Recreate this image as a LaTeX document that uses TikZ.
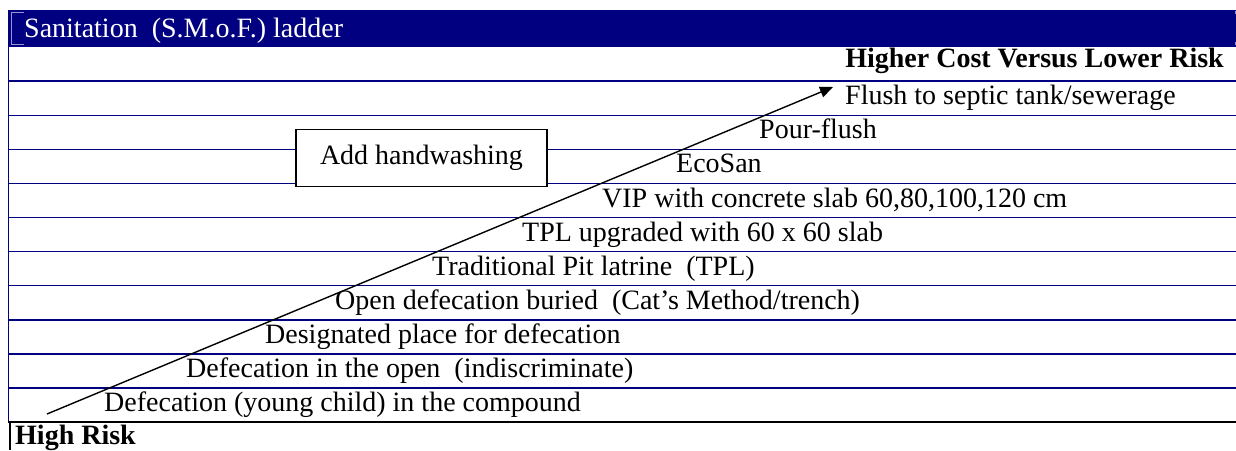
\documentclass[tikz,border=0pt]{standalone}
\usepackage{fontspec}
\setmainfont{Liberation Serif}
\usetikzlibrary{arrows.meta}
\definecolor{navyrule}{RGB}{0,0,128}
\definecolor{cellmark}{RGB}{150,150,205}
\begin{document}
\begin{tikzpicture}[x=1pt,y=-1pt,
  rowline/.style={navyrule, line width=1.4pt},
  baseline rule/.style={black, line width=1.8pt},
  celltext/.style={anchor=base west, inner sep=0pt, font=\fontsize{28}{32}\selectfont},
  boldtext/.style={celltext, font=\fontsize{28}{32}\selectfont\bfseries},
  headtext/.style={celltext, text=white},
  notebox/.style={draw=black, line width=1.2pt, fill=white, inner sep=0pt,
    minimum width=251pt, minimum height=57pt, font=\fontsize{28}{32}\selectfont},
  ladderarrow/.style={black, line width=1.4pt, -{Triangle[length=13pt,width=11pt]}},
  markline/.style={cellmark, line width=0.9pt}]
\useasboundingbox (0,0) rectangle (1236,450);

% title band
\fill[navyrule] (8,10) rectangle (1236,47);
\draw[markline] (24,12.5) -- (11,12.5) -- (11,44.5) -- (24,44.5);
\draw[markline] (1235.2,11) -- (1235.2,14);
\draw[markline] (1235.2,42) -- (1235.2,45);
\node[headtext] (title) at (24,37.7) {Sanitation\ \ (S.M.o.F.) ladder};

% table rules
\draw[rowline] (8.7,47) -- (8.7,422);
\foreach \k in {1,...,10}
  \draw[rowline] (8,{47+34.1*\k}) -- (1236,{47+34.1*\k});
\draw[baseline rule] (8,422.1) -- (1236,422.1);
\draw[black, line width=1.6pt] (10,422.1) -- (10,450);

% side note
\node[notebox] (wash) at (421.5,158) {Add handwashing};

% ladder steps
\node[boldtext, anchor=base east] (cost) at (1224,67.5) {Higher Cost Versus Lower Risk};
\node[celltext] (flush)  at (845,104.7) {Flush to septic tank/sewerage};
\node[celltext] (pour)   at (759,138.8) {Pour-flush};
\node[celltext] (ecosan) at (676,172.9) {EcoSan};
\node[celltext] (vip)    at (602,207.0) {VIP with concrete slab 60,80,100,120 cm};
\node[celltext] (tplup)  at (522,241.1) {TPL upgraded with 60 x 60 slab};
\node[celltext] (tpl)    at (432,275.2) {Traditional Pit latrine\ \ (TPL)};
\node[celltext] (cat)    at (335,309.3) {Open defecation buried\ \ (Cat’s Method/trench)};
\node[celltext] (place)  at (265,343.4) {Designated place for defecation};
\node[celltext] (open)   at (186,377.5) {Defecation in the open\ \ (indiscriminate)};
\node[celltext] (child)  at (104,411.6) {Defecation (young child) in the compound};
\node[boldtext] (risk)   at (15,444) {High Risk};

% rising arrow
\coordinate (tail) at (47,414);
\coordinate (tip) at (833,87);
\draw[ladderarrow] (tail) -- (tip);
\end{tikzpicture}
\end{document}
